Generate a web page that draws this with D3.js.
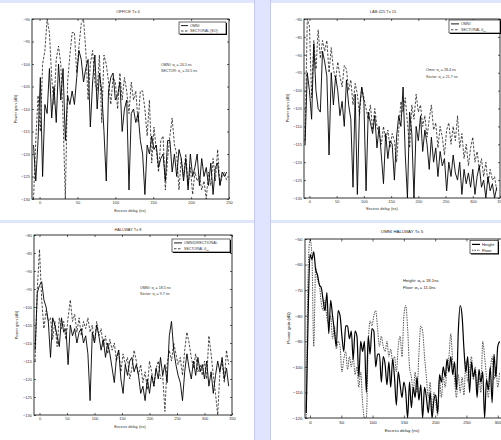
<!DOCTYPE html>
<html>
<head>
<meta charset="utf-8">
<script src="https://cdn.jsdelivr.net/npm/d3@7"></script>
<style>
  body { margin: 0; background: #dfe5fc; }
  svg { display: block; font-family: "Liberation Sans", Arial, sans-serif; }
</style>
</head>
<body>
<script>
// ---- data ----
// top left: OFFICE, delay grid every 3 ns
const tlDelay = d3.range(-8, 248, 3);
const tlOmni = [-118,-126,-117,-103,-125,-109,-111,-101,-112,-105,
  -113,-100,-108,-101,-117,-107,-109,-106,-109,-103,
  -97,-99,-104,-101,-99,-114,-104,-98,-110,-102,
  -106,-115,-126,-106,-103,-102,-108,-107,-104,-115,
  -110,-108,-128,-111,-110,-113,-111,-117,-120,-129,
  -118,-120,-116,-119,-118,-123,-121,-120,-126,-117,
  -117,-124,-120,-125,-119,-121,-126,-121,-128,-120,
  -125,-123,-120,-127,-121,-125,-123,-127,-122,-129,
  -123,-122,-127,-124,-125,-124];
const tlSector = [-130,-117,-107,-115,-100,-97,-90,-93,-103,-109,
  -99,-96,-100,-112,-130,-104,-98,-93,-93,-102,
  -96,-91,-90,-97,-108,-100,-97,-104,-106,-98,
  -113,-98,-100,-104,-109,-103,-104,-110,-102,-108,
  -103,-106,-111,-104,-108,-106,-113,-106,-106,-110,
  -116,-108,-122,-114,-119,-124,-117,-116,-128,-121,
  -116,-112,-118,-120,-128,-121,-125,-120,-127,-123,
  -129,-124,-126,-125,-128,-126,-130,-124,-127,-121,
  -126,-119,-127,-125,-124,-126];

// top right: LAB, grid every 4 ns
const trDelay = d3.range(-8, 345, 4);
const trOmni = [-115,-95,-100,-108,-87,-100,-105,-106,-89,-92,
  -96,-118,-95,-104,-96,-100,-107,-103,-110,-97,
  -104,-108,-127,-101,-129,-105,-99,-103,-128,-106,
  -109,-112,-107,-116,-110,-118,-126,-112,-119,-114,
  -115,-125,-113,-107,-110,-99,-118,-130,-106,-112,
  -130,-110,-114,-107,-117,-111,-115,-122,-113,-120,
  -116,-124,-117,-121,-119,-128,-120,-124,-118,-123,
  -125,-120,-129,-122,-126,-123,-127,-122,-129,-124,
  -121,-127,-125,-130,-124,-128,-126,-130,-127];
const trSector = [-114,-80,-82,-102,-86,-94,-83,-91,-86,-89,
  -86,-95,-88,-94,-97,-92,-96,-99,-93,-94,
  -100,-97,-104,-98,-101,-107,-99,-102,-105,-108,
  -104,-111,-105,-110,-112,-115,-110,-114,-111,-116,
  -112,-114,-120,-111,-103,-106,-102,-109,-116,-104,
  -108,-101,-106,-104,-110,-107,-113,-108,-104,-111,
  -109,-116,-110,-113,-118,-111,-109,-115,-110,-114,
  -107,-116,-112,-119,-115,-121,-116,-113,-120,-117,
  -122,-119,-124,-120,-126,-122,-125,-124,-128];

// bottom left: HALLWAY, grid every 4 ns
const blDelay = d3.range(-8, 345, 4);
const blOmni = [-112,-96,-94,-93,-98,-100,-104,-114,-103,-105,
  -108,-111,-103,-107,-106,-116,-105,-108,-106,-110,
  -107,-106,-110,-108,-113,-126,-107,-110,-105,-108,
  -112,-109,-114,-110,-113,-117,-121,-114,-112,-120,
  -124,-116,-119,-115,-114,-118,-116,-119,-124,-122,
  -126,-120,-124,-119,-122,-117,-120,-114,-119,-116,
  -121,-108,-104,-112,-116,-119,-121,-126,-118,-113,
  -117,-120,-115,-119,-114,-118,-116,-120,-115,-122,
  -118,-124,-119,-115,-118,-114,-120,-117,-122];
const blSector = [-115,-95,-84,-98,-106,-101,-104,-103,-109,-104,
  -111,-103,-106,-104,-109,-103,-98,-104,-102,-107,
  -103,-108,-104,-106,-103,-107,-105,-110,-104,-108,
  -106,-111,-108,-113,-109,-112,-110,-115,-112,-118,
  -113,-116,-114,-120,-117,-112,-115,-119,-116,-121,
  -118,-123,-115,-118,-122,-117,-115,-120,-119,-129,
  -116,-112,-115,-110,-113,-116,-114,-119,-112,-107,
  -110,-114,-117,-113,-118,-116,-119,-115,-120,-108,
  -113,-119,-124,-130,-118,-115,-121,-112,-116];

// bottom right: OMNI HALLWAY Tx 5, grid every 3 ns
const brDelay = d3.range(-6, 304, 3);
const brHeight = [-118,-80,-56,-58,-55,-62,-64,-68,-69,-74,
  -78,-71,-87,-74,-80,-86,-92,-78,-80,-88,
  -94,-84,-84,-89,-86,-97,-86,-88,-104,-90,
  -94,-90,-110,-88,-95,-85,-86,-100,-95,-95,
  -106,-96,-99,-107,-98,-108,-97,-104,-115,-102,
  -107,-112,-106,-110,-120,-106,-116,-108,-112,-104,
  -113,-107,-120,-108,-112,-118,-110,-120,-113,-111,
  -118,-103,-106,-100,-104,-97,-102,-96,-103,-98,
  -109,-86,-76,-80,-93,-102,-96,-110,-98,-104,
  -101,-112,-101,-106,-102,-120,-105,-109,-100,-114,
  -95,-104,-92,-90];
const brFloor = [-120,-63,-50,-56,-92,-61,-66,-68,-75,-78,
  -74,-81,-83,-80,-89,-84,-93,-90,-92,-102,
  -97,-94,-101,-96,-100,-96,-103,-100,-108,-102,
  -114,-120,-120,-92,-82,-84,-80,-78,-85,-92,
  -88,-92,-94,-90,-96,-93,-98,-96,-102,-92,
  -88,-96,-80,-76,-85,-100,-104,-110,-102,-110,
  -95,-84,-86,-96,-104,-112,-106,-118,-110,-114,
  -119,-105,-112,-104,-108,-100,-96,-87,-98,-105,
  -112,-103,-110,-104,-111,-98,-106,-101,-96,-105,
  -100,-108,-104,-110,-90,-96,-104,-112,-102,-96,
  -105,-100,-108,-102];

const xTicks250 = [0, 50, 100, 150, 200, 250];
const xTicks350 = [0, 50, 100, 150, 200, 250, 300, 350];
const xTicks300 = [0, 50, 100, 150, 200, 250, 300];
const yTicksOffice = d3.range(-130, -89, 5);
const yTicksLab = d3.range(-130, -79, 5);
const yTicksHall = [-120, -110, -100, -90, -80, -70, -60, -50];

const svg = d3.select('body').append('svg')
  .attr('width', 501)
  .attr('height', 440);

// slide-like background: white panels on a lavender page
svg.append('rect').attr('width', 501).attr('height', 440).attr('fill', '#dfe5fc');
const panels = [[0, 3, 254, 217], [271, 3, 230, 217], [0, 223, 254, 217], [271, 223, 230, 217]];
svg.selectAll('rect.panel')
  .data(panels)
  .enter()
  .append('rect')
  .attr('class', 'panel')
  .attr('x', d => d[0]).attr('y', d => d[1])
  .attr('width', d => d[2]).attr('height', d => d[3])
  .attr('fill', '#fff');
svg.append('line').attr('x1', 254.5).attr('x2', 254.5).attr('y1', 0).attr('y2', 440)
  .attr('stroke', '#c4caf3');
svg.append('line').attr('x1', 270.5).attr('x2', 270.5).attr('y1', 0).attr('y2', 440)
  .attr('stroke', '#c4caf3');

function subText(sel, parts, fs) {
  // parts: [before, subscript, after]
  sel.append('tspan').text(parts[0]);
  sel.append('tspan').attr('font-size', fs * 0.7).attr('dy', fs * 0.3).text(parts[1]);
  sel.append('tspan').attr('dy', -fs * 0.3).text(parts[2]);
}

function drawPanel(p) {
  const x = d3.scaleLinear().domain(p.xDomain).range(p.xRange);
  const y = d3.scaleLinear().domain(p.yDomain).range(p.yRange);
  const left = p.xRange[0], right = p.xRange[1], top = p.yRange[1], bottom = p.yRange[0];
  const g = svg.append('g').attr('fill', p.textColor);

  svg.append('clipPath').attr('id', 'clip-' + p.name)
    .append('rect')
    .attr('x', left).attr('y', top)
    .attr('width', right - left).attr('height', bottom - top);

  const line = d3.line()
    .x((d, i) => x(p.delay[i]))
    .y(d => y(d))
    .curve(p.curve);

  g.append('path')
    .datum(p.dashed)
    .attr('clip-path', 'url(#clip-' + p.name + ')')
    .attr('d', line)
    .attr('fill', 'none')
    .attr('stroke', p.dashColor)
    .attr('stroke-width', p.dashWidth)
    .attr('stroke-dasharray', p.dash);

  g.append('path')
    .datum(p.solid)
    .attr('clip-path', 'url(#clip-' + p.name + ')')
    .attr('d', line)
    .attr('fill', 'none')
    .attr('stroke', '#000')
    .attr('stroke-width', p.solidWidth);

  // axes, MATLAB style: ticks point inward on all four sides
  const tk = p.tick;
  const axes = [
    [d3.axisBottom(x).tickValues(p.xTicks), 'translate(0,' + bottom + ')', true],
    [d3.axisTop(x).tickValues(p.xTicks), 'translate(0,' + top + ')', false],
    [d3.axisLeft(y).tickValues(p.yTicks), 'translate(' + left + ',0)', true],
    [d3.axisRight(y).tickValues(p.yTicks), 'translate(' + right + ',0)', false]
  ];
  axes.forEach(a => {
    const ax = a[0].tickSizeInner(-tk).tickSizeOuter(0).tickPadding(p.pad);
    if (!a[2]) ax.tickFormat('');
    const sel = g.append('g').attr('transform', a[1]).call(ax);
    sel.select('.domain').remove();
    sel.selectAll('line').attr('stroke', '#000').attr('stroke-width', 0.6);
    sel.selectAll('text').attr('font-size', p.fs).attr('fill', p.textColor)
      .attr('font-family', '"Liberation Sans", Arial, sans-serif');
  });

  g.append('rect')
    .attr('x', left).attr('y', top)
    .attr('width', right - left).attr('height', bottom - top)
    .attr('fill', 'none').attr('stroke', '#000').attr('stroke-width', 0.8);

  // title and axis labels
  g.append('text').attr('x', p.title[1]).attr('y', p.title[2])
    .attr('text-anchor', 'middle').attr('font-size', p.fs).text(p.title[0]);
  g.append('text').attr('x', p.xLabel[0]).attr('y', p.xLabel[1])
    .attr('text-anchor', 'middle').attr('font-size', p.fs).text('Excess delay (ns)');
  g.append('text')
    .attr('transform', 'translate(' + p.yLabel[0] + ',' + p.yLabel[1] + ') rotate(-90)')
    .attr('text-anchor', 'middle').attr('font-size', p.fs).text('Power gain (dB)');

  // legend with shadow
  const lb = p.legendBox;
  g.append('rect').attr('x', lb[0] + 1).attr('y', lb[1] + 1).attr('width', lb[2]).attr('height', lb[3])
    .attr('fill', '#000');
  g.append('rect').attr('x', lb[0]).attr('y', lb[1]).attr('width', lb[2]).attr('height', lb[3])
    .attr('fill', '#fff').attr('stroke', '#000').attr('stroke-width', 0.6);
  const rows = [lb[1] + lb[3] * 0.3, lb[1] + lb[3] * 0.75];
  [[p.solidWidth, '#000', null], [p.dashWidth, p.dashColor, p.dash]].forEach((s, i) => {
    g.append('line')
      .attr('x1', lb[0] + 2).attr('x2', lb[0] + 2 + p.legendLine)
      .attr('y1', rows[i]).attr('y2', rows[i])
      .attr('stroke', s[1]).attr('stroke-width', s[0])
      .attr('stroke-dasharray', s[2]);
    const t = g.append('text')
      .attr('x', lb[0] + 4 + p.legendLine).attr('y', rows[i] + p.lfs * 0.35)
      .attr('font-size', p.lfs);
    subText(t, p.legend[i], p.lfs);
  });

  // delay spread note
  p.notes.forEach((n, i) => {
    const t = g.append('text')
      .attr('x', p.noteXY[0]).attr('y', p.noteXY[1] + i * p.noteGap)
      .attr('font-size', p.lfs);
    subText(t, n, p.lfs);
  });
}

drawPanel({
  name: 'office', delay: tlDelay, solid: tlOmni, dashed: tlSector,
  xDomain: [-10, 250], xRange: [32, 229], yDomain: [-130, -90], yRange: [199, 19],
  xTicks: xTicks250, yTicks: yTicksOffice,
  curve: d3.curveLinear, solidWidth: 0.9, dashWidth: 0.75, dash: '2.5,1.5', dashColor: '#111',
  fs: 4, lfs: 3.6, tick: 2, pad: 2, textColor: '#333',
  title: ['OFFICE Tx 4', 128, 13], xLabel: [130, 212], yLabel: [17, 109],
  legendBox: [179, 22, 47, 12], legendLine: 7,
  legend: [['OMNI', '', ''], ['SECTORAL (SO)', '', '']],
  notes: [['OMNI: \u03c3', '\u03c4', ' = 24.5 ns'], ['SECTOR: \u03c3', '\u03c4', ' = 20.5 ns']],
  noteXY: [161, 66], noteGap: 6
});

drawPanel({
  name: 'lab', delay: trDelay, solid: trOmni, dashed: trSector,
  xDomain: [-10, 350], xRange: [304, 500], yDomain: [-130, -80], yRange: [198, 19],
  xTicks: xTicks350, yTicks: yTicksLab,
  curve: d3.curveLinear, solidWidth: 0.9, dashWidth: 0.75, dash: '2.5,1.5', dashColor: '#111',
  fs: 4, lfs: 3.6, tick: 2, pad: 2, textColor: '#333',
  title: ['LAB 425 Tx 15', 383, 13], xLabel: [382, 210], yLabel: [289, 108],
  legendBox: [449, 20, 51, 13], legendLine: 8,
  legend: [['OMNI', '', ''], ['SECTORAL \u03b8', 'dir', '']],
  notes: [['Omni: \u03c3', '\u03c4', ' = 28.4 ns'], ['Sector: \u03c3', '\u03c4', ' = 21.7 ns']],
  noteXY: [426, 71], noteGap: 6.5
});

drawPanel({
  name: 'hall', delay: blDelay, solid: blOmni, dashed: blSector,
  xDomain: [-10, 350], xRange: [34, 232], yDomain: [-130, -80], yRange: [415, 235],
  xTicks: xTicks350, yTicks: yTicksLab,
  curve: d3.curveLinear, solidWidth: 0.9, dashWidth: 0.75, dash: '2.5,1.5', dashColor: '#111',
  fs: 4, lfs: 3.6, tick: 2, pad: 2, textColor: '#333',
  title: ['HALLWAY Tx 8', 128, 231], xLabel: [130, 428], yLabel: [18, 325],
  legendBox: [172, 239, 58, 13], legendLine: 8,
  legend: [['OMNIDIRECTIONAL', '', ''], ['SECTORAL \u03b8', 'dir', '']],
  notes: [['OMNI: \u03c3', '\u03c4', ' = 18.5 ns'], ['Sector: \u03c3', '\u03c4', ' = 9.7 ns']],
  noteXY: [140, 289], noteGap: 6
});

drawPanel({
  name: 'omni', delay: brDelay, solid: brHeight, dashed: brFloor,
  xDomain: [-8, 310], xRange: [305, 504], yDomain: [-120, -50], yRange: [418, 239],
  xTicks: xTicks300, yTicks: yTicksHall,
  curve: d3.curveMonotoneX, solidWidth: 1.2, dashWidth: 0.9, dash: '1.5,1', dashColor: '#444',
  fs: 4.4, lfs: 4.2, tick: 2.5, pad: 2.5, textColor: '#222',
  title: ['OMNI HALLWAY Tx 5', 402, 233], xLabel: [402, 432], yLabel: [290, 328],
  legendBox: [470, 240.5, 28, 13], legendLine: 8,
  legend: [['Height', '', ''], ['Floor', '', '']],
  notes: [['Height: \u03c3', '\u03c4', ' = 18.1ns'], ['Floor: \u03c3', '\u03c4', ' = 11.0ns']],
  noteXY: [403, 282], noteGap: 7
});
</script>
</body>
</html>
